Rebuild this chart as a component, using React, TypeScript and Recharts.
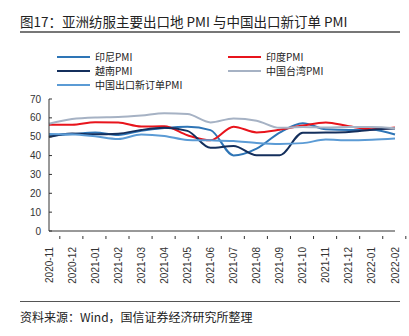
import React from "react";
import { LineChart, Line, XAxis, YAxis } from "recharts";

const months = ["2020-11","2020-12","2021-01","2021-02","2021-03","2021-04","2021-05","2021-06","2021-07","2021-08","2021-09","2021-10","2021-11","2021-12","2022-01","2022-02"];
const indonesia = [50.6,51.3,52.2,50.9,53.2,54.6,55.3,53.5,40.1,43.7,52.2,57.2,53.9,53.5,53.7,51.2];
const india = [56.3,56.4,57.7,57.5,55.4,55.5,50.8,48.1,55.3,52.3,53.7,55.9,57.6,55.5,54.0,54.9];
const vietnam = [49.9,51.7,51.3,51.6,53.6,54.7,53.1,44.1,45.1,40.2,40.2,52.1,52.2,52.5,53.7,54.3];
const taiwan = [56.9,59.4,60.2,60.4,61.2,62.4,62.0,57.6,59.7,58.5,54.7,55.2,54.9,55.1,55.1,54.5];
const chinaNewExport = [51.5,51.3,50.2,48.8,51.2,50.4,48.3,48.1,47.7,46.7,46.2,46.6,48.5,48.1,48.4,49.0];
const yTicks = [0,10,20,30,40,50,60,70];

const series = [
  { key: "indonesia", name: "印尼PMI", color: "#2E75B6" },
  { key: "india", name: "印度PMI", color: "#E8141C" },
  { key: "vietnam", name: "越南PMI", color: "#142F5C" },
  { key: "taiwan", name: "中国台湾PMI", color: "#A6B2C4" },
  { key: "chinaNewExport", name: "中国出口新订单PMI", color: "#5B9BD5" },
];

const data = months.map((m, i) => ({
  month: m,
  indonesia: indonesia[i],
  india: india[i],
  vietnam: vietnam[i],
  taiwan: taiwan[i],
  chinaNewExport: chinaNewExport[i],
}));

const CJK = '"Noto Sans CJK SC", sans-serif';
const PLOT_LEFT = 49;
const PLOT_RIGHT = 395;
const BAND = (PLOT_RIGHT - PLOT_LEFT) / months.length;

function XTick(props: any) {
  const { x, y, payload } = props;
  return (
    <g>
      <line x1={x + BAND / 2} x2={x + BAND / 2} y1={y} y2={y - 3} stroke="#333" strokeWidth={1} />
      <text
        x={x + 3.5}
        y={y + 8}
        transform={`rotate(-90, ${x + 3.5}, ${y + 8})`}
        textAnchor="end"
        fontSize={10}
        fill="#333"
        fontFamily="Arial, 'Liberation Sans', sans-serif"
      >
        {payload.value}
      </text>
    </g>
  );
}

function ChartLegend() {
  const pos = [
    { x: 57, y: 57 }, { x: 228, y: 57 },
    { x: 57, y: 71 }, { x: 228, y: 71 },
    { x: 57, y: 85 },
  ];
  return (
    <svg width={409} height={100} style={{ position: "absolute", left: 0, top: 0 }}>
      {series.map((s, i) => (
        <g key={s.key}>
          <line x1={pos[i].x} x2={pos[i].x + 33} y1={pos[i].y} y2={pos[i].y} stroke={s.color} strokeWidth={2} />
          <text x={pos[i].x + 38} y={pos[i].y + 3.5} fontSize={10} fill="#222" fontFamily={CJK}>{s.name}</text>
        </g>
      ))}
    </svg>
  );
}

export default function App() {
  return (
    <div style={{ position: "absolute", left: 0, top: 0, width: 409, height: 336, background: "#fff", fontFamily: CJK }}>
      <div style={{ position: "absolute", left: 20, top: 12, fontSize: 13.5, color: "#222", whiteSpace: "nowrap", lineHeight: "18px" }}>
        图17：亚洲纺服主要出口地 PMI 与中国出口新订单 PMI
      </div>
      <div style={{ position: "absolute", left: 20, top: 31, width: 380, height: 2, background: "#777" }} />
      <ChartLegend />
      <div style={{ position: "absolute", left: 0, top: 0 }}>
        <LineChart width={409} height={290} data={data} margin={{ top: 99, right: 409 - PLOT_RIGHT, bottom: 8, left: 9 }}>
          <XAxis
            dataKey="month"
            interval={0}
            height={51}
            axisLine={{ stroke: "#333" }}
            tickLine={false}
            tick={<XTick />}
          />
          <YAxis
            width={40}
            domain={[0, 70]}
            ticks={yTicks}
            interval={0}
            axisLine={{ stroke: "#333" }}
            tickLine={{ stroke: "#333" }}
            tickSize={-3}
            tickMargin={11}
            tick={{ fontSize: 10, fill: "#333", fontFamily: "Arial, 'Liberation Sans', sans-serif" }}
          />
          {series.map((s) => (
            <Line
              key={s.key}
              type="monotone"
              dataKey={s.key}
              name={s.name}
              stroke={s.color}
              strokeWidth={2}
              dot={false}
              isAnimationActive={false}
            />
          ))}
        </LineChart>
      </div>
      <div style={{ position: "absolute", left: 20, top: 301, width: 380, height: 1, background: "#555" }} />
      <div style={{ position: "absolute", left: 20, top: 309, fontSize: 12, color: "#222", whiteSpace: "nowrap", lineHeight: "16px" }}>
        资料来源：Wind，国信证券经济研究所整理
      </div>
    </div>
  );
}
